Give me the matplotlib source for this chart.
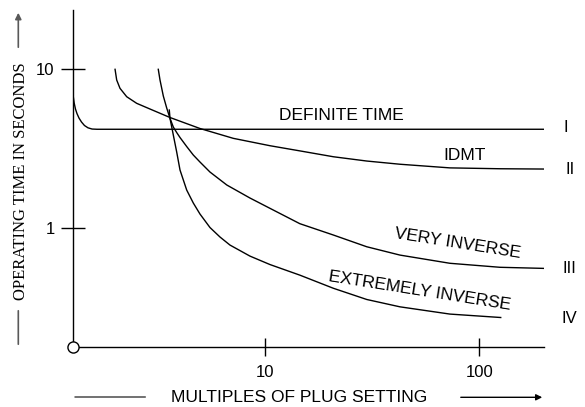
import matplotlib
matplotlib.use("Agg")
import matplotlib.pyplot as plt
from matplotlib.ticker import FixedLocator, FixedFormatter, NullLocator

plt.rcParams['font.family'] = ['Liberation Sans', 'DejaVu Sans']

# ---- data (multiples of plug setting, seconds) ----
def_x = [1.259, 1.267, 1.279, 1.297, 1.318, 1.347, 1.384, 1.429, 1.484, 1.550, 1.635, 201]
def_y = [7.774, 6.725, 6.139, 5.628, 5.272, 4.940, 4.662, 4.432, 4.287, 4.212, 4.198, 4.198]

idmt_x = [1.986, 2.021, 2.094, 2.251, 2.506, 2.892, 3.587, 4.953, 7.088, 10.52,
          14.5, 20.8, 29.8, 42.6, 72.9, 125, 201]
idmt_y = [10.0, 8.567, 7.596, 6.725, 6.112, 5.628, 4.977, 4.244, 3.681, 3.308,
          3.07, 2.82, 2.65, 2.53, 2.40, 2.37, 2.36]

vinv_x = [3.560, 3.587, 3.717, 3.855, 3.995, 4.293, 4.609, 4.953, 5.515, 6.610,
          8.482, 10.52, 14.5, 20.8, 29.8, 42.6, 72.9, 125, 201]
vinv_y = [5.546, 4.919, 4.336, 4.004, 3.725, 3.269, 2.891, 2.612, 2.260, 1.873,
          1.551, 1.336, 1.07, 0.908, 0.766, 0.679, 0.603, 0.569, 0.56]

einv_x = [3.162, 3.221, 3.338, 3.462, 3.587, 3.717, 3.855, 3.995, 4.293, 4.609,
          4.953, 5.515, 6.143, 6.839, 8.482, 10.52, 14.5, 20.8, 29.8, 42.6, 72.9, 126]
einv_y = [10.0, 8.567, 6.793, 5.710, 4.919, 3.863, 3.019, 2.326, 1.741, 1.443,
          1.230, 1.012, 0.882, 0.785, 0.669, 0.592, 0.508, 0.420, 0.357, 0.321, 0.289, 0.275]

curve_labels = ["DEFINITE TIME", "IDMT", "VERY INVERSE", "EXTREMELY INVERSE"]
label_x = [22.8, 85.7, 79.1, 52.8]
label_y = [5.16, 2.89, 0.805, 0.406]
label_rot = [0, 0, -9, -9]

roman = ["I", "II", "III", "IV"]
roman_x = [254, 265, 265, 265]
roman_y = [4.28, 2.33, 0.562, 0.273]

x_ticks = [10, 100]
y_ticks = [1, 10]
######################################################

W, H = 585, 407
fig = plt.figure(figsize=(W / 100, H / 100), dpi=100, facecolor='w')
left, right, bottom, top = 72.7, 544.3, 347.3, 10.0
ax = fig.add_axes([left / W, 1 - bottom / H, (right - left) / W, (bottom - top) / H])

ax.set_xscale('log')
ax.set_yscale('log')
ax.set_xlim(10 ** 0.100, 10 ** 2.304)
ax.set_ylim(10 ** -0.748, 10 ** 1.373)

lw = 1.0
for xs, ys in [(def_x, def_y), (idmt_x, idmt_y), (vinv_x, vinv_y), (einv_x, einv_y)]:
    ax.plot(xs, ys, color='k', lw=lw, solid_joinstyle='round')

for t, x, y, r in zip(curve_labels, label_x, label_y, label_rot):
    ax.text(x, y, t, ha='center', va='center', rotation=r, fontsize=12.5,
            rotation_mode='anchor')
for t, x, y in zip(roman, roman_x, roman_y):
    ax.text(x, y, t, ha='center', va='center', fontsize=12, clip_on=False)

########################################
ax.spines['top'].set_visible(False)
ax.spines['right'].set_visible(False)
for s in ['bottom', 'left']:
    ax.spines[s].set_linewidth(1.0)
ax.xaxis.set_major_locator(FixedLocator(x_ticks))
ax.xaxis.set_major_formatter(FixedFormatter([str(v) for v in x_ticks]))
ax.yaxis.set_major_locator(FixedLocator(y_ticks))
ax.yaxis.set_major_formatter(FixedFormatter([str(v) for v in y_ticks]))
ax.xaxis.set_minor_locator(NullLocator())
ax.yaxis.set_minor_locator(NullLocator())
ax.tick_params(axis='y', direction='inout', length=17, width=1.0, labelsize=12, pad=4.5)
ax.tick_params(axis='x', direction='inout', length=13, width=1.0, labelsize=12, pad=6.5)

# open circle at the origin
ax.plot([0], [0], 'o', transform=ax.transAxes, ms=8, mfc='w', mec='k', mew=1.0,
        clip_on=False, zorder=5)

############################################
# axis titles with arrows
fig.text(21 / W, 1 - 181 / H, "OPERATING TIME IN SECONDS", rotation=90,
         ha='center', va='center', fontsize=12, family=['Liberation Serif', 'DejaVu Serif'])
fig.text(299 / W, 1 - 397 / H, "MULTIPLES OF PLUG SETTING",
         ha='center', va='center', fontsize=12.5)

gray = '0.35'
ax.annotate('', xy=(18.3 / W, 1 - 308 / H), xytext=(18.3 / W, 1 - 347 / H),
            xycoords='figure fraction', arrowprops=dict(arrowstyle='-', color=gray, lw=1.2))
ax.annotate('', xy=(18.3 / W, 1 - 10 / H), xytext=(18.3 / W, 1 - 50 / H),
            xycoords='figure fraction',
            arrowprops=dict(arrowstyle='-|>', color=gray, lw=1.2, mutation_scale=9))
ax.annotate('', xy=(148 / W, 1 - 397 / H), xytext=(72.3 / W, 1 - 397 / H),
            xycoords='figure fraction', arrowprops=dict(arrowstyle='-', color=gray, lw=1.2))
ax.annotate('', xy=(545 / W, 1 - 397.3 / H), xytext=(458 / W, 1 - 397.3 / H),
            xycoords='figure fraction',
            arrowprops=dict(arrowstyle='-|>', color='k', lw=1.0, mutation_scale=9))

plt.savefig("out.png", dpi=100, facecolor='w')
plt.close(fig)
